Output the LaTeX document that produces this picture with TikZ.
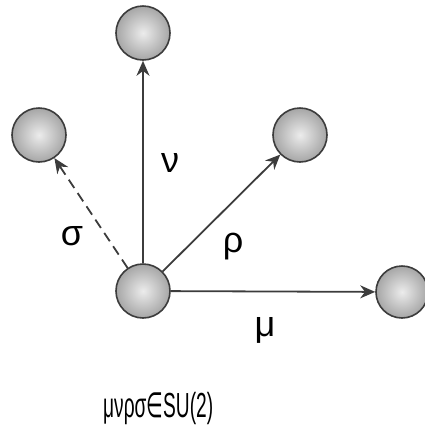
\documentclass[tikz,border=0pt]{standalone}
\usepackage{fontspec}
\setmainfont{Liberation Sans}
\newfontfamily\symfont{DejaVu Sans}
\usetikzlibrary{arrows.meta}
\definecolor{linegray}{RGB}{60,60,60}
\begin{document}
\begin{tikzpicture}[x=1pt,y=-1pt,
  ball/.style={circle,minimum size=54pt,inner sep=0pt,draw=linegray,line width=1.6pt,
    shading=radial,inner color=gray!15,outer color=gray!70},
  conn/.style={draw=linegray,line width=1.8pt,-{Stealth[length=15pt,width=13pt]}},
  lbl/.style={font=\fontsize{36}{36}\selectfont,inner sep=0pt}]
\useasboundingbox (0,0) rectangle (425,432);
\node[ball] (c) at (143,291) {};
\node[ball] (t) at (143,33) {};
\node[ball] (l) at (39,135) {};
\node[ball] (r) at (300,135) {};
\node[ball,minimum size=52pt] (m) at (402,292) {};
\draw[conn] (c) -- (t);
\draw[conn,dashed,dash pattern=on 10pt off 6pt] (c) -- (l);
\draw[conn] (c) -- (r);
\draw[conn] (c) -- (m);
\node[lbl] (nu) at (170,163) {ν};
\node[lbl] (sigma) at (72,236) {σ};
\node[lbl] (rho) at (233,247) {ρ};
\node[lbl] (mu) at (265,330) {μ};
\node[inner sep=0pt,anchor=base west] (eq) at (103,417) {\resizebox{110pt}{!}{\scalebox{0.55}[1]{\fontsize{18}{18}\selectfont μνρσ{\symfont ∈}SU(2)}}};
\end{tikzpicture}
\end{document}
